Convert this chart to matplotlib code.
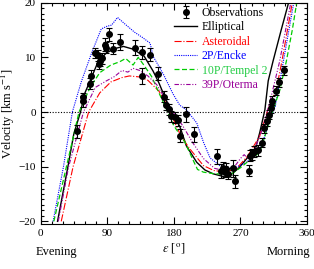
import numpy as np
import matplotlib
matplotlib.use('Agg')
import matplotlib.pyplot as plt
from matplotlib.ticker import MultipleLocator

# observations: elongation [deg], velocity [km/s], error
obs_x = [49, 57, 58, 67, 68, 73, 77, 79, 80, 83, 87, 88, 92, 98, 107, 127, 137, 148,
         137, 158, 167, 170, 173, 176, 181, 186, 188, 197, 207, 238, 244, 246, 249,
         251, 253, 260, 263, 282, 283, 285, 288, 294, 299, 302, 306, 308.5, 311, 313,
         317.5, 322, 329]
obs_v = [-3.5, 2.0, 2.7, 5.2, 6.6, 10.8, 10.4, 8.8, 9.4, 9.8, 12.3, 11.8, 14.2, 11.6,
         12.8, 11.8, 10.9, 10.5, 6.6, 7.0, 2.8, 1.3, 0.5, -0.8, -1.0, -1.5, -4.3, -0.4,
         -4.1, -8.1, -10.8, -10.2, -10.9, -10.4, -11.3, -10.3, -12.7, -10.7, -8.0, -7.7,
         -7.3, -7.0, -5.6, -3.0, -1.7, -0.5, 0.7, 2.1, 3.9, 5.4, 7.6]
obs_err = [1.2, 1.0, 0.8, 1.0, 1.0, 1.0, 1.0, 1.0, 1.0, 1.0, 1.2, 1.0, 1.2, 1.0, 1.5,
           1.4, 1.2, 1.2, 1.4, 1.2, 1.0, 1.0, 1.0, 1.0, 1.0, 1.0, 1.2, 1.4, 1.4, 1.4,
           1.2, 1.0, 1.0, 1.0, 1.0, 1.5, 1.2, 1.0, 1.0, 1.0, 1.0, 1.0, 0.8, 0.8, 0.8,
           0.8, 0.8, 0.8, 0.8, 0.8, 0.8]

# model curves
ell_x = [23, 37, 45, 54, 60, 67, 78, 89, 100, 112, 125, 140, 152, 160, 168, 180, 188,
         197, 211, 222, 233, 247, 258, 268, 278, 290, 296, 303, 307.5, 314, 325, 335]
ell_v = [-20, -10, -4, 0, 3.5, 5.7, 9.3, 10.8, 11.6, 12.0, 11.5, 10.2, 7.5, 5.3, 2.7,
         -0.8, -2.6, -6.2, -9.2, -10.6, -11.3, -11.8, -11.4, -10.2, -8.6, -6.8, -3.8,
         0.4, 5.7, 9.3, 15.0, 20]

ast_x = [28, 44, 65, 80, 95, 110, 120, 135, 145, 160, 170, 180, 190, 202, 220, 234,
         250, 265, 280, 296, 307, 319, 326, 340]
ast_v = [-20, -10, 0, 3.5, 5.5, 6.3, 6.6, 6.4, 5.8, 3.8, 1.5, -1.5, -4.5, -6.8, -9.8,
         -10.7, -11.0, -10.3, -8.0, -4.4, 0.4, 4.5, 9.3, 20]

enc_x = [17, 31, 43, 55, 69, 82, 90, 96, 104, 114, 127, 137, 148, 152, 166, 179, 188,
         197, 211, 220, 229, 242, 260, 278, 292, 300, 305, 310, 317, 328, 342]
enc_v = [-20, -10, 0, 5.5, 10.8, 15.2, 15.7, 15.9, 17.3, 16.1, 14.6, 13.7, 12.6, 10.2,
         6.9, 3.3, 1.25, 0.4, -2.0, -5.5, -8.4, -9.8, -10.4, -9.2, -7.6, -5.5, -3.5,
         -1.2, 1.0, 9.3, 20]

tem_x = [18, 35, 52, 67, 80, 95, 107, 115, 125, 132, 140, 150, 160, 170, 180, 195,
         205, 212, 220, 235, 257, 270, 285, 296, 303, 314, 323, 332, 340, 346]
tem_v = [-20, -10, 0, 4.5, 7.2, 8.6, 9.2, 9.8, 8.6, 10.0, 8.5, 6.5, 3.5, 0.5, -2.5,
         -5.5, -8.5, -10.5, -11.0, -11.3, -11.4, -10.2, -8.5, -7.4, -4.4, 0.4, 3.9,
         9.3, 15.0, 20]

ote_x = [24, 38, 58, 74, 89, 100, 110, 118, 125, 134, 145, 157, 168, 180, 192, 205,
         220, 235, 250, 262, 270, 275, 280, 290, 300, 310, 323, 338]
ote_v = [-20, -10, 0, 4.5, 5.7, 6.5, 7.6, 7.3, 8.0, 7.6, 6.6, 5.0, 2.5, -0.2, -2.5,
         -5.5, -8.5, -10.3, -10.8, -10.0, -8.5, -7.8, -8.5, -6.5, -3.0, 2.0, 9.3, 20]

plt.rcParams['font.family'] = 'Liberation Serif'
plt.rcParams['mathtext.fontset'] = 'stix'

fig = plt.figure(figsize=(3.14, 2.69), dpi=100)
ax = fig.add_axes([0.129, 0.167, 0.849, 0.823])

ax.axhline(0, color='k', ls=(0, (1, 1.5)), lw=0.8)

ax.plot(ell_x, ell_v, color='k', lw=1.0, label='Elliptical')
ax.plot(ast_x, ast_v, color='#ff0000', lw=0.8, ls='-.', label='Asteroidal')
ax.plot(enc_x, enc_v, color='#0000ff', lw=0.8, ls=(0, (1, 1)), label='2P/Encke')
ax.plot(tem_x, tem_v, color='#00cc00', lw=0.9, ls=(0, (4, 2)), label='10P/Tempel 2')
ax.plot(ote_x, ote_v, color='#990099', lw=0.8, ls=(0, (4, 1.5, 1, 1.5, 1, 1.5)),
        label='39P/Oterma')
ax.errorbar(obs_x, obs_v, yerr=obs_err, fmt='o', color='k', ms=4, elinewidth=0.8,
            capsize=2, capthick=0.8, label='Observations')

ax.set_xlim(0, 360)
ax.set_ylim(-20.5, 20)
ax.xaxis.set_major_locator(MultipleLocator(90))
ax.xaxis.set_minor_locator(MultipleLocator(15))
ax.yaxis.set_major_locator(MultipleLocator(10))
ax.yaxis.set_minor_locator(MultipleLocator(1))
ax.tick_params(which='both', direction='in', top=True, right=True, labelsize=8,
               width=0.8)
ax.tick_params(which='major', length=5)
ax.tick_params(which='minor', length=2.5)
for s in ax.spines.values():
    s.set_linewidth(0.8)

ax.set_ylabel(r'Velocity [km s$^{-1}$]', fontsize=9, labelpad=1)
ax.set_xlabel(r'$\varepsilon$ [$^{\rm o}$]', fontsize=9, labelpad=2)
fig.text(0.18, 0.063, 'Evening', fontsize=9, ha='center', va='center')
fig.text(0.92, 0.063, 'Morning', fontsize=9, ha='center', va='center')

handles, labels = ax.get_legend_handles_labels()
order = [5, 0, 1, 2, 3, 4]
leg = ax.legend([handles[i] for i in order], [labels[i] for i in order],
                loc='upper left', frameon=False, fontsize=8.5, handlelength=2.0,
                handletextpad=0.35, labelspacing=0.2, borderpad=0,
                borderaxespad=0, bbox_to_anchor=(0.5, 0.98))
text_cols = ['k', 'k', '#ff0000', '#0000ff', '#22cc44', '#990099']
for t, c in zip(leg.get_texts(), text_cols):
    t.set_color(c)

fig.savefig('out.png', dpi=100)
